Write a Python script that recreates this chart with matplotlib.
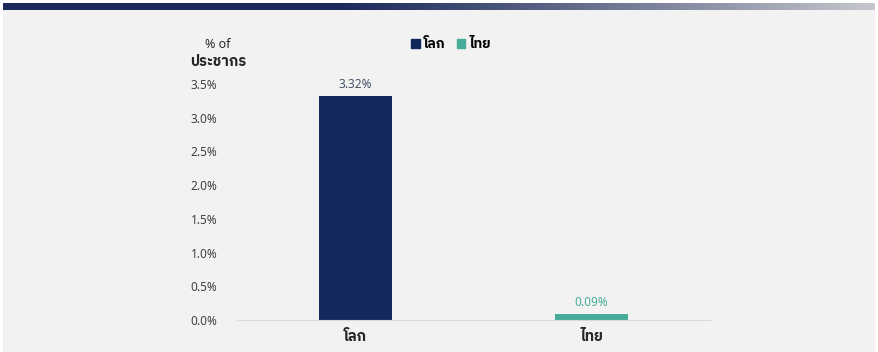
import numpy as np
import matplotlib
matplotlib.use('Agg')
import matplotlib.pyplot as plt
from matplotlib.patches import Rectangle

# data
categories = ['โลก', 'ไทย']
values = [3.32, 0.09]
value_labels = ['3.32%', '0.09%']
yticks = [0.0, 0.5, 1.0, 1.5, 2.0, 2.5, 3.0, 3.5]
ylabel_lines = ['% of', 'ประชากร']

navy = '#14295b'
teal = '#47ab99'
colors = [navy, teal]
label_colors = ['#44546a', teal]
fonts = ['Noto Sans', 'IBM Plex Sans Thai', 'Noto Sans Thai', 'DejaVu Sans']
plt.rcParams['font.family'] = fonts

W, H = 879, 352
fig = plt.figure(figsize=(W / 100, H / 100), dpi=100)
fig.patch.set_facecolor('white')

# grey panel and gradient band on top
fig.patches.append(Rectangle((3 / W, 0), 872 / W, (H - 10) / H,
                             transform=fig.transFigure, facecolor='#f2f2f2',
                             edgecolor='none', zorder=-5))
band = fig.add_axes([3 / W, (H - 10) / H, 872 / W, 7 / H])
grad = np.linspace(0, 1, 256)
c0 = np.array([0x1c, 0x2a, 0x5b]) / 255
c1 = np.array([0xc6, 0xc7, 0xcd]) / 255
t = np.clip((grad - 0.38) / 0.62, 0, 1) ** 1.1
img = c0[None, :] * (1 - t[:, None]) + c1[None, :] * t[:, None]
band.imshow(img[None, :, :], aspect='auto', extent=[0, 1, 0, 1])
band.axis('off')

ax = fig.add_axes([237 / W, 32 / H, 473 / W, 236 / H])
ax.set_facecolor('none')
x = np.arange(len(categories))
ax.bar(x, values, width=0.31, color=colors, zorder=2)
for xi, v, lab, c in zip(x, values, value_labels, label_colors):
    ax.text(xi, v + 0.08, lab, ha='center', va='bottom', fontsize=8.5, color=c)

ax.set_xlim(-0.5, 1.5)
ax.set_ylim(0, 3.5)
ax.set_yticks(yticks)
ax.set_yticklabels(['%.1f%%' % v for v in yticks], fontsize=8.5, color='#404040')
ax.set_xticks(x)
ax.set_xticklabels(categories, fontsize=10.5, color='#262626', fontweight='bold')
ax.tick_params(axis='y', length=0, pad=14)
ax.tick_params(axis='x', length=0, pad=7)
for s in ['top', 'right', 'left']:
    ax.spines[s].set_visible(False)
ax.spines['bottom'].set_color('#d9d9d9')
ax.spines['bottom'].set_zorder(3)

# y-axis title
fig.text(218 / W, 1 - 44 / H, ylabel_lines[0], ha='center', va='center',
         fontsize=9, color='#262626')
fig.text(218 / W, 1 - 62 / H, ylabel_lines[1], ha='center', va='center',
         fontsize=10.5, color='#262626', fontweight='bold')

# legend
handles = [Rectangle((0, 0), 1, 1, color=c) for c in colors]
fig.legend(handles, categories, loc='center', bbox_to_anchor=(451 / W, 1 - 45 / H),
           ncol=2, frameon=False, handlelength=0.6, handleheight=0.6,
           handletextpad=0.3, columnspacing=0.8,
           prop={'size': 10, 'weight': 'bold', 'family': fonts})

fig.savefig('out.png', dpi=100, facecolor=fig.get_facecolor())
